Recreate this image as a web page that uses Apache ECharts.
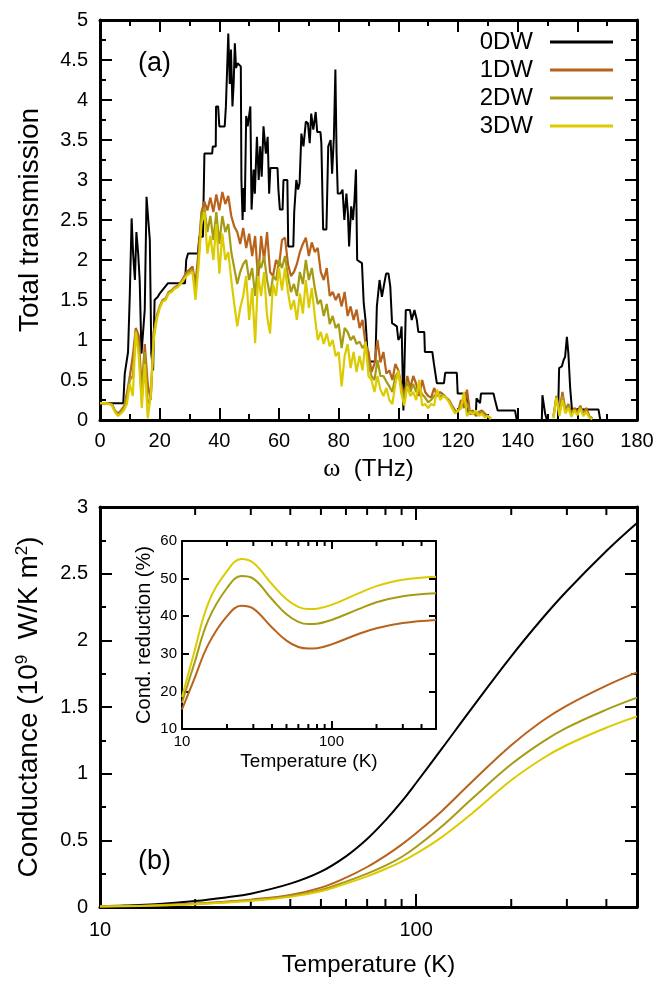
<!DOCTYPE html>
<html>
<head>
<meta charset="utf-8">
<script src="https://cdn.jsdelivr.net/npm/echarts/dist/echarts.min.js"></script>
<style>
  html, body { margin: 0; padding: 0; background: #fff; }
  #chart { width: 663px; height: 986px; }
</style>
</head>
<body>
<div id="chart"></div>
<script>
  // ---- panel (a): total transmission vs frequency ----
  var omega0 = [0, 7.8, 8.3, 9.4, 10, 10.6, 11.1, 11.7, 12.2, 12.8, 13.3, 13.9, 15, 15.6, 16.1, 16.7, 17.2, 17.8, 18.3, 19.4,
    20, 22.8, 28.5, 28.9, 29.5, 32.8, 33.3, 34.5, 35, 37.6, 37.8, 38.8, 38.9, 39.6, 40, 41.8, 42.2, 42.6, 43, 43.5,
    43.9, 44.4, 44.8, 45.2, 45.6, 46.1, 47.2, 47.4, 47.8, 48.1, 48.5, 49, 49.5, 50.4, 50.8, 51.5, 51.9, 52.6, 53.2, 53.7,
    54.2, 54.8, 55.6, 56.2, 56.7, 57.1, 59.5, 59.8, 60.3, 61.2, 61.5, 62.8, 63.1, 64.8, 65.1, 65.8, 66.4, 66.9, 67.5, 68.2,
    69, 69.7, 70.3, 70.8, 71.5, 72.3, 72.8, 73.9, 74.2, 74.8, 75.9, 76.5, 77.3, 77.8, 78.4, 78.9, 79.3, 79.7, 80.6, 81.3,
    81.9, 82.6, 83.1, 83.5, 84.2, 84.8, 85.3, 85.8, 86.2, 87.8, 88.4, 89, 89.7, 90.3, 92.3, 92.8, 93.7, 94.5, 95.3, 95.9,
    96.7, 97.3, 97.9, 99.5, 100, 100.6, 101.1, 101.7, 102.5, 103.9, 104.5, 105.4, 106.2, 106.7, 108.7, 108.9, 111.4, 111.9, 112.9, 115.3,
    115.7, 119.6, 119.9, 122.9, 123.5, 126, 126.2, 127.4, 127.7, 131.9, 132.4, 133.3, 139.1, 139.7, 148.1, 148.3, 149.2, 149.8, 153.5, 153.9,
    154.8, 155.4, 155.9, 156.5, 157, 157.6, 158.2, 167.1, 167.7];
  var trans0 = [0.21, 0.21, 0.58, 0.85, 1.58, 2.52, 2.08, 1.75, 2.35, 2.08, 1.75, 0.83, 1.38, 2.79, 2.54, 2.25, 0.83, 0.62, 1.5, 1.54,
    1.58, 1.71, 1.71, 2.0, 2.08, 2.08, 2.29, 2.29, 3.33, 3.33, 3.42, 3.42, 3.92, 3.92, 3.67, 3.67, 3.92, 3.92, 4.83, 4.2,
    4.63, 3.92, 4.2, 4.71, 4.4, 4.46, 4.42, 3.0, 2.5, 2.9, 2.6, 3.8, 3.67, 3.92, 2.63, 3.13, 2.83, 3.54, 3.0, 3.42,
    3.04, 3.67, 3.33, 3.54, 2.83, 3.15, 3.15, 2.88, 2.63, 2.63, 3.0, 3.0, 2.17, 2.17, 2.6, 3.0, 2.88, 2.96, 3.58, 3.42,
    3.73, 3.71, 3.46, 3.83, 3.63, 3.85, 3.6, 3.6, 3.46, 2.38, 2.38, 3.42, 3.5, 3.08, 3.54, 4.38, 3.33, 2.83, 2.83, 2.88,
    2.5, 2.83, 2.58, 2.17, 2.67, 2.5, 2.75, 3.13, 2.0, 1.96, 1.46, 1.25, 0.83, 0.73, 0.73, 1.42, 1.75, 1.54, 1.71, 1.83,
    1.83, 1.67, 1.21, 1.17, 1.0, 1.04, 1.17, 0.12, 1.375, 1.375, 1.25, 1.375, 1.25, 1.1, 1.1, 0.85, 0.85, 0.71, 0.46, 0.46,
    0.59, 0.59, 0.33, 0.33, 0.08, 0.08, 0.27, 0.21, 0.33, 0.33, 0.25, 0.12, 0.12, 0, 0, 0.31, 0.08, 0, 0, 0.65,
    0.67, 0.75, 0.79, 1.04, 0.83, 0.4, 0.13, 0.13, 0];

  var omegaDW = [0, 1, 2, 3, 4, 5, 6, 7, 8, 9, 10, 11, 12, 13, 14, 15, 16, 17, 18, 19,
    20, 21, 22, 23, 24, 25, 26, 27, 28, 29, 30, 31, 32, 33, 34, 35, 36, 37, 38, 39,
    40, 41, 42, 43, 44, 45, 46, 47, 48, 49, 50, 51, 52, 53, 54, 55, 56, 57, 58, 59,
    60, 61, 62, 63, 64, 65, 66, 67, 68, 69, 70, 71, 72, 73, 74, 75, 76, 77, 78, 79,
    80, 81, 82, 83, 84, 85, 86, 87, 88, 89, 90, 91, 92, 93, 94, 95, 96, 97, 98, 99,
    100, 101, 102, 103, 104, 105, 106, 107, 108, 109, 110, 111, 112, 113, 114, 115, 116, 117, 118, 119,
    120, 121, 122, 123, 124, 125, 126, 127, 128, 129, 130, 131,
    140,
    152, 153, 154, 155, 156, 157, 158, 159, 160, 161, 162, 163, 164, 165];
  var trans1 = [0.21, 0.21, 0.21, 0.21, 0.20, 0.12, 0.08, 0.12, 0.17, 0.33,
    0.55, 0.80, 1.15, 1.05, 0.35, 0.95, 0.45, 0.25, 1.10, 1.30,
    1.42, 1.50, 1.52, 1.60, 1.62, 1.66, 1.68, 1.72, 1.78, 1.85,
    1.88, 1.92, 1.70, 2.10, 2.60, 2.73, 2.62, 2.78, 2.60, 2.82,
    2.62, 2.85, 2.70, 2.80, 2.55, 2.42, 2.35, 2.20, 2.40, 2.15,
    2.33, 2.05, 2.30, 1.75, 2.30, 2.00, 2.35, 1.85, 1.80, 2.00,
    1.92, 2.25, 2.28, 1.95, 1.80, 1.85, 1.95, 2.10, 2.20, 2.28,
    2.05, 2.22, 2.10, 2.15, 1.85, 1.75, 1.90, 1.55, 1.60, 1.50,
    1.58, 1.42, 1.60, 1.30, 1.42, 1.25, 1.38, 1.15, 1.25, 0.95,
    0.85, 0.60, 0.70, 1.00, 0.72, 0.85, 0.58, 0.62, 0.50, 0.70,
    0.62, 0.45, 0.30, 0.55, 0.40, 0.55, 0.45, 0.30, 0.50, 0.35,
    0.30, 0.28, 0.40, 0.30, 0.35, 0.32, 0.28, 0.25, 0.18, 0.12,
    0.10, 0.25, 0.15, 0.38, 0.10, 0.12, 0.05, 0.10, 0.12, 0.08,
    0.05, 0.02,
    null,
    0.05, 0.30, 0.10, 0.35, 0.12, 0.20, 0.08, 0.15, 0.10, 0.18, 0.08, 0.15, 0.05, 0.02];
  var trans2 = [0.21, 0.21, 0.21, 0.20, 0.19, 0.11, 0.06, 0.10, 0.15, 0.28,
    0.50, 0.55, 1.12, 0.90, 0.25, 0.85, 0.20, 0.28, 1.05, 1.28,
    1.41, 1.49, 1.51, 1.59, 1.61, 1.65, 1.67, 1.71, 1.76, 1.82,
    1.85, 1.88, 1.60, 2.00, 2.55, 2.65, 2.35, 2.55, 2.25, 2.60,
    2.20, 2.55, 2.35, 2.45, 2.10, 1.90, 1.70, 1.85, 1.95, 2.00,
    1.75, 1.90, 1.55, 2.00, 1.90, 2.05, 1.75, 1.55, 1.80, 1.75,
    2.00, 1.90, 2.05, 1.80, 1.60, 1.70, 1.55, 1.85, 1.70, 2.00,
    1.75, 1.90, 1.65, 1.45, 1.50, 1.30, 1.45, 1.20, 1.30, 1.15,
    1.20, 0.90, 1.15, 1.10, 1.00, 1.05, 0.95, 0.98, 0.90, 0.95,
    0.70, 0.55, 0.50, 0.75, 0.55, 0.55, 0.48, 0.42, 0.35, 0.55,
    0.60, 0.40, 0.25, 0.48, 0.35, 0.45, 0.35, 0.40, 0.32, 0.28,
    0.22, 0.25, 0.30, 0.34, 0.30, 0.31, 0.28, 0.24, 0.16, 0.10,
    0.11, 0.20, 0.25, 0.20, 0.10, 0.10, 0.08, 0.08, 0.10, 0.05,
    0.05, 0.02,
    null,
    0.03, 0.29, 0.08, 0.30, 0.10, 0.18, 0.06, 0.13, 0.08, 0.16, 0.07, 0.12, 0.04, 0.02];
  var trans3 = [0.21, 0.21, 0.21, 0.20, 0.18, 0.10, 0.05, 0.08, 0.12, 0.20,
    0.45, 0.30, 1.10, 0.80, 0.15, 0.70, 0.02, 0.30, 1.00, 1.25,
    1.40, 1.48, 1.50, 1.58, 1.60, 1.64, 1.66, 1.70, 1.75, 1.80,
    1.83, 1.85, 1.50, 1.90, 2.45, 2.60, 2.08, 2.30, 2.00, 2.45,
    1.83, 2.33, 2.00, 2.10, 1.75, 1.45, 1.17, 1.40, 1.55, 1.80,
    1.25, 1.65, 0.96, 1.80, 1.55, 1.85, 1.30, 1.08, 1.70, 1.55,
    1.90, 1.62, 1.90, 1.60, 1.38, 1.50, 1.25, 1.58, 1.33, 1.75,
    1.40, 1.65, 1.30, 1.00, 1.10, 0.95, 1.08, 0.92, 1.00, 0.80,
    0.85, 0.42, 0.80, 0.95, 0.65, 0.85, 0.60, 0.80, 0.62, 0.98,
    0.55, 0.50, 0.35, 0.55, 0.38, 0.30, 0.40, 0.25, 0.20, 0.45,
    0.62, 0.33, 0.18, 0.42, 0.30, 0.35, 0.25, 0.50, 0.18, 0.20,
    0.15, 0.20, 0.18, 0.38, 0.25, 0.30, 0.28, 0.22, 0.15, 0.08,
    0.12, 0.14, 0.35, 0.05, 0.10, 0.07, 0.12, 0.05, 0.08, 0.03,
    0.05, 0.01,
    null,
    0.02, 0.28, 0.05, 0.25, 0.08, 0.15, 0.04, 0.12, 0.06, 0.14, 0.05, 0.10, 0.03, 0.01];

  // ---- panel (b): conductance vs temperature ----
  var temps = [10, 12, 15, 20, 25, 30, 40, 50, 60, 70, 80, 90, 100, 120, 150, 200, 250, 300, 400, 500];
  var cond0 = [0.006, 0.011, 0.021, 0.045, 0.072, 0.10, 0.175, 0.265, 0.38, 0.51, 0.65, 0.79, 0.93, 1.18, 1.49, 1.88, 2.16, 2.37, 2.67, 2.88];
  var cond1 = [0.005, 0.008, 0.014, 0.026, 0.04, 0.055, 0.09, 0.145, 0.22, 0.30, 0.384, 0.468, 0.553, 0.715, 0.938, 1.213, 1.393, 1.511, 1.661, 1.76];
  var cond2 = [0.004, 0.007, 0.012, 0.023, 0.036, 0.05, 0.082, 0.128, 0.19, 0.25, 0.31, 0.375, 0.45, 0.60, 0.81, 1.07, 1.235, 1.345, 1.48, 1.57];
  var cond3 = [0.004, 0.006, 0.011, 0.021, 0.033, 0.046, 0.076, 0.118, 0.175, 0.23, 0.285, 0.34, 0.40, 0.52, 0.70, 0.95, 1.11, 1.215, 1.345, 1.43];

  // ---- inset: conductance reduction (%) ----
  var itemps = [10, 12, 15, 20, 25, 30, 40, 50, 60, 70, 80, 100, 150, 200, 300, 500];
  var red1 = [15.2, 23, 32.5, 40, 42.8, 42, 37, 33.5, 31.8, 31.4, 31.5, 32.5, 35.2, 36.8, 38.2, 39.0];
  var red2 = [17, 27, 39, 47.5, 50.7, 50, 44.5, 40.5, 38.5, 37.9, 38.0, 39.0, 41.8, 43.7, 45.3, 46.1];
  var red3 = [18.5, 30, 43.5, 52, 55.2, 54.2, 48.5, 44.5, 42.5, 41.9, 42.0, 43.0, 46.0, 48.0, 49.7, 50.5];

  var logMinorTicks = [20, 30, 40, 50, 60, 70, 80, 90, 200, 300, 400];

  var names = ['0DW', '1DW', '2DW', '3DW'];
  var colors = ['#000000', '#B8621B', '#A69C14', '#DCCB00'];
  var FONT = '"Liberation Sans", Arial, sans-serif';

  function pairs(xs, ys) {
    return xs.map(function (x, i) { return [x, ys[i] == null ? '-' : ys[i]]; });
  }

  function valueAxis(grid, pos, min, max, interval, labels, tick, minor, fs, lw, margin) {
    return {
      type: 'value', gridIndex: grid, position: pos, min: min, max: max, interval: interval,
      axisLine: { show: true, onZero: false, lineStyle: { color: '#000', width: lw } },
      axisTick: { show: true, inside: true, length: tick, lineStyle: { color: '#000', width: 2 } },
      minorTick: { show: minor > 0, splitNumber: 2, length: minor, lineStyle: { color: '#000', width: 2 } },
      axisLabel: { show: labels, color: '#000', fontSize: fs, fontFamily: FONT, margin: margin },
      splitLine: { show: false }
    };
  }

  function logAxis(grid, pos, labels, tick, fs, lw, margin) {
    return {
      type: 'log', logBase: 10, gridIndex: grid, position: pos, min: 10, max: 500,
      axisLine: { show: true, onZero: false, lineStyle: { color: '#000', width: lw } },
      axisTick: { show: true, inside: true, length: tick, lineStyle: { color: '#000', width: 2 } },
      minorTick: { show: false },
      axisLabel: { show: labels, color: '#000', fontSize: fs, fontFamily: FONT, margin: margin, showMaxLabel: false },
      splitLine: { show: false }
    };
  }

  var chart = echarts.init(document.getElementById('chart'));

  var xa0 = valueAxis(0, 'bottom', 0, 180, 20, true, 12, 6, 20, 3, 11);
  xa0.name = '{w|ω}  (THz)';
  xa0.nameLocation = 'middle';
  xa0.nameGap = 36;
  xa0.nameTextStyle = { color: '#000', fontSize: 24, fontFamily: FONT, rich: { w: { fontSize: 26, fontFamily: '"Liberation Serif", serif', color: '#000' } } };

  var ya0 = valueAxis(0, 'left', 0, 5, 0.5, true, 12, 6, 20, 3, 12);
  ya0.name = 'Total transmission';
  ya0.nameLocation = 'middle';
  ya0.nameGap = 56;
  ya0.nameTextStyle = { color: '#000', fontSize: 28, fontFamily: FONT };

  var xa2 = logAxis(1, 'bottom', true, 13, 20, 3, 13);
  xa2.name = 'Temperature (K)';
  xa2.nameLocation = 'middle';
  xa2.nameGap = 46;
  xa2.nameTextStyle = { color: '#000', fontSize: 24, fontFamily: FONT };

  var ya2 = valueAxis(1, 'left', 0, 3, 0.5, true, 12, 6, 20, 3, 12);
  ya2.name = 'Conductance (10{sup|9}  W/K m{sup|2})';
  ya2.nameLocation = 'middle';
  ya2.nameGap = 56;
  ya2.nameTextStyle = {
    color: '#000', fontSize: 28, fontFamily: FONT,
    rich: { sup: { fontSize: 17, fontFamily: FONT, color: '#000', verticalAlign: 'top', lineHeight: 30 } }
  };

  var xa4 = logAxis(2, 'bottom', true, 8, 15, 2, 5);
  xa4.name = 'Temperature (K)';
  xa4.nameLocation = 'middle';
  xa4.nameGap = 23;
  xa4.nameTextStyle = { color: '#000', fontSize: 19, fontFamily: FONT };

  var ya4 = valueAxis(2, 'left', 10, 60, 10, true, 7, 0, 15, 2, 5);
  ya4.name = 'Cond. reduction (%)';
  ya4.nameLocation = 'middle';
  ya4.nameGap = 28;
  ya4.nameTextStyle = { color: '#000', fontSize: 20, fontFamily: FONT };

  var series = [];
  series.push({ name: names[0], type: 'line', xAxisIndex: 0, yAxisIndex: 0, symbol: 'none', color: colors[0],
    lineStyle: { width: 2, color: colors[0] }, data: pairs(omega0, trans0) });
  [trans1, trans2, trans3].forEach(function (ys, k) {
    series.push({ name: names[k + 1], type: 'line', xAxisIndex: 0, yAxisIndex: 0, symbol: 'none', color: colors[k + 1],
      connectNulls: false, lineStyle: { width: 2.2, color: colors[k + 1] }, data: pairs(omegaDW, ys) });
  });
  [cond0, cond1, cond2, cond3].forEach(function (ys, k) {
    series.push({ name: 'G' + names[k], type: 'line', xAxisIndex: 2, yAxisIndex: 2, symbol: 'none', smooth: 0.4,
      color: colors[k], lineStyle: { width: 2, color: colors[k] }, data: pairs(temps, ys) });
  });
  [red1, red2, red3].forEach(function (ys, k) {
    series.push({ name: 'R' + names[k + 1], type: 'line', xAxisIndex: 4, yAxisIndex: 4, symbol: 'none', smooth: 0.4,
      color: colors[k + 1], lineStyle: { width: 2, color: colors[k + 1] }, data: pairs(itemps, ys) });
  });

  chart.setOption({
    animation: false,
    backgroundColor: '#fff',
    grid: [
      { left: 100, top: 20, width: 537, height: 400, outerBoundsMode: 'none' },
      { left: 100, top: 507, width: 537, height: 400, outerBoundsMode: 'none' },
      { left: 182, top: 541, width: 254, height: 188, outerBoundsMode: 'none', show: true, backgroundColor: '#fff', borderWidth: 0 }
    ],
    legend: {
      data: names, orient: 'vertical', right: 50, top: 30, align: 'right', padding: 0,
      icon: 'rect', itemWidth: 63, itemHeight: 3, itemGap: 4,
      textStyle: { color: '#000', fontSize: 24, fontFamily: FONT, lineHeight: 24, padding: [0, 12, 0, 0] }
    },
    xAxis: [
      xa0,
      valueAxis(0, 'top', 0, 180, 20, false, 12, 6, 20, 3, 8),
      xa2,
      logAxis(1, 'top', false, 13, 20, 3, 8),
      xa4,
      logAxis(2, 'top', false, 8, 15, 2, 5)
    ],
    yAxis: [
      ya0,
      valueAxis(0, 'right', 0, 5, 0.5, false, 12, 6, 20, 3, 8),
      ya2,
      valueAxis(1, 'right', 0, 3, 0.5, false, 12, 6, 20, 3, 8),
      ya4,
      valueAxis(2, 'right', 10, 60, 10, false, 7, 0, 15, 2, 5)
    ],
    series: series
  });

  // minor ticks of the log axes (2..9 per decade), placed through the axes' own scales
  function logTickGraphics(xi, yi, yMin, yMax, len) {
    var yb = chart.convertToPixel({ yAxisIndex: yi }, yMin);
    var yt = chart.convertToPixel({ yAxisIndex: yi }, yMax);
    var out = [];
    logMinorTicks.forEach(function (v) {
      var x = chart.convertToPixel({ xAxisIndex: xi }, v);
      out.push({ type: 'rect', shape: { x: x - 1, y: yb - len, width: 2, height: len }, style: { fill: '#000' } });
      out.push({ type: 'rect', shape: { x: x - 1, y: yt, width: 2, height: len }, style: { fill: '#000' } });
    });
    return out;
  }

  var graphics = [
    { type: 'text', left: 138, top: 50, style: { text: '(a)', fontSize: 27, fontFamily: FONT, fill: '#000' } },
    { type: 'text', left: 138, top: 848, style: { text: '(b)', fontSize: 27, fontFamily: FONT, fill: '#000' } }
  ].concat(logTickGraphics(2, 2, 0, 3, 8), logTickGraphics(4, 4, 10, 60, 5));

  chart.setOption({ graphic: graphics });
</script>
</body>
</html>
